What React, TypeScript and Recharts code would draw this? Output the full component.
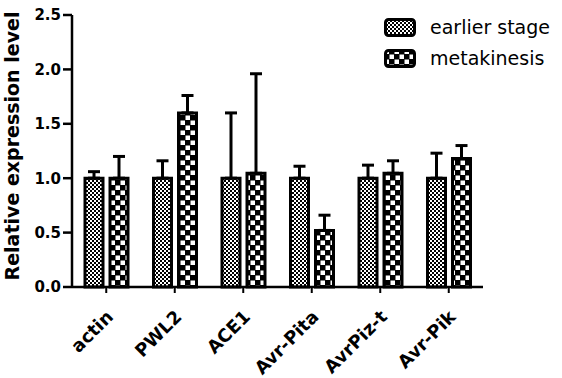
import React from 'react'
import { BarChart, Bar, XAxis, YAxis, ErrorBar, Label } from 'recharts'

const CATEGORIES = ['actin', 'PWL2', 'ACE1', 'Avr-Pita', 'AvrPiz-t', 'Avr-Pik']
const EARLIER = [1.0, 1.0, 1.0, 1.0, 1.0, 1.0]
const EARLIER_ERR = [0.06, 0.16, 0.6, 0.11, 0.12, 0.23]
const METAKINESIS = [1.0, 1.6, 1.045, 0.52, 1.045, 1.18]
const METAKINESIS_ERR = [0.2, 0.16, 0.915, 0.14, 0.115, 0.12]
const Y_TICKS = [0, 0.5, 1.0, 1.5, 2.0, 2.5]

const SERIES = [
  { key: 'earlier', name: 'earlier stage', pattern: 'url(#patFine)' },
  { key: 'metakinesis', name: 'metakinesis', pattern: 'url(#patCoarse)' },
]

const data = CATEGORIES.map((name, i) => ({
  name,
  earlier: EARLIER[i],
  earlierErr: [0, EARLIER_ERR[i]],
  metakinesis: METAKINESIS[i],
  metakinesisErr: [0, METAKINESIS_ERR[i]],
}))

const BOLD = 'DejaVu Sans, sans-serif'

function XTick({ x, y, payload }: any) {
  const tx = x + 8
  const ty = y + 23
  return (
    <text
      x={tx}
      y={ty}
      transform={`rotate(-45, ${tx}, ${ty})`}
      textAnchor="end"
      fontFamily={BOLD}
      fontWeight="bold"
      fontSize={18}
      fill="#000"
    >
      {payload.value}
    </text>
  )
}

function LegendBox() {
  return (
    <div
      style={{
        position: 'absolute',
        left: 384,
        top: 12,
        fontFamily: BOLD,
        fontSize: 19,
        color: '#000',
        lineHeight: 1,
      }}
    >
      {SERIES.map((s) => (
        <div key={s.key} style={{ display: 'flex', alignItems: 'center', height: 31 }}>
          <svg width={32} height={19} style={{ marginRight: 14 }}>
            <rect x={1.5} y={1.5} width={29} height={16} rx={3} fill={s.pattern} stroke="#000" strokeWidth={3} />
          </svg>
          <span>{s.name}</span>
        </div>
      ))}
    </div>
  )
}

export default function App() {
  return (
    <div style={{ position: 'absolute', left: 0, top: 0, width: 562, height: 378, background: '#fff' }}>
      <svg width={0} height={0} style={{ position: 'absolute' }}>
        <defs>
          <pattern id="patFine" patternUnits="userSpaceOnUse" width={4} height={4}>
            <rect width={4} height={4} fill="#fff" />
            <rect x={0} y={0} width={2} height={2} fill="#000" />
            <rect x={2} y={2} width={2} height={2} fill="#000" />
          </pattern>
          <pattern id="patCoarse" patternUnits="userSpaceOnUse" width={10} height={10}>
            <rect width={10} height={10} fill="#000" />
            <rect x={0.5} y={0.5} width={4.5} height={4.5} fill="#fff" />
            <rect x={5.5} y={5.5} width={4.5} height={4.5} fill="#fff" />
          </pattern>
        </defs>
      </svg>
      <BarChart
        width={562}
        height={378}
        data={data}
        margin={{ top: 15, right: 79, left: 0, bottom: 0 }}
        barSize={18}
        barGap={7}
      >
        <XAxis
          dataKey="name"
          height={91}
          axisLine={{ stroke: '#000', strokeWidth: 2.5 }}
          tickLine={{ stroke: '#000', strokeWidth: 2 }}
          tickSize={6}
          tick={<XTick />}
          interval={0}
        />
        <YAxis
          width={72}
          domain={[0, 2.5]}
          ticks={Y_TICKS}
          tickFormatter={(v: number) => v.toFixed(1)}
          axisLine={{ stroke: '#000', strokeWidth: 2.5 }}
          tickLine={{ stroke: '#000', strokeWidth: 2.5 }}
          tickSize={9}
          tickMargin={2}
          tick={{ fill: '#000', fontFamily: BOLD, fontWeight: 'bold', fontSize: 15 }}
        >
          <Label
            content={() => (
              <text
                x={19}
                y={146}
                transform="rotate(-90, 19, 146)"
                textAnchor="middle"
                fontFamily={BOLD}
                fontWeight="bold"
                fontSize={19}
                fill="#000"
              >
                Relative expression level
              </text>
            )}
          />
        </YAxis>
        {SERIES.map((s) => (
          <Bar
            key={s.key}
            dataKey={s.key}
            name={s.name}
            fill={s.pattern}
            stroke="#000"
            strokeWidth={3}
            isAnimationActive={false}
          >
            <ErrorBar dataKey={`${s.key}Err`} width={6} stroke="#000" strokeWidth={3} direction="y" />
          </Bar>
        ))}
      </BarChart>
      <LegendBox />
    </div>
  )
}
